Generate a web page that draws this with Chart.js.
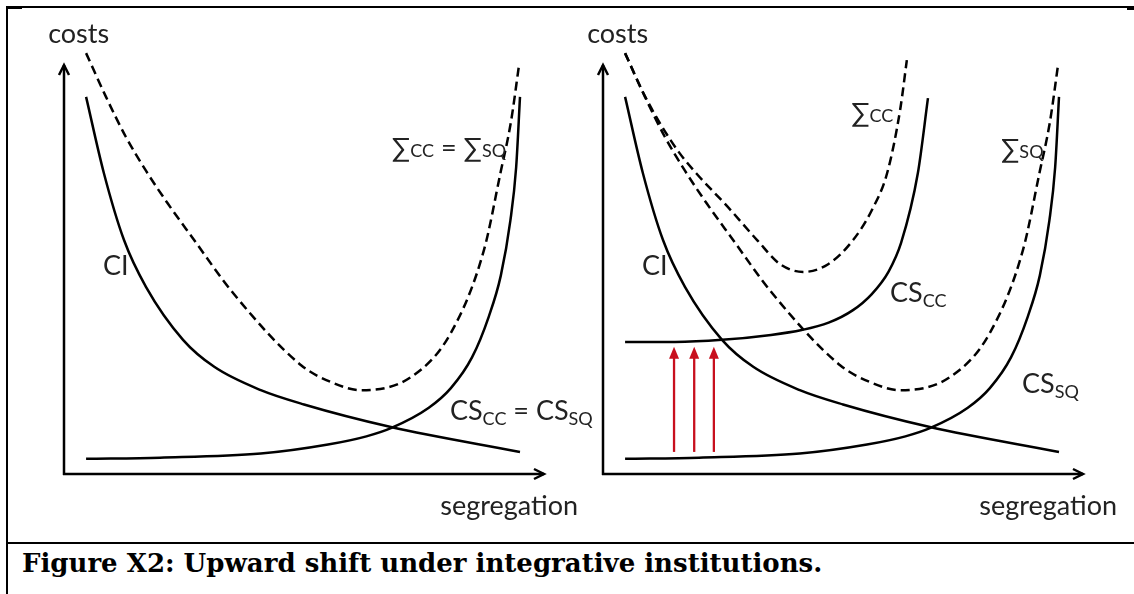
<!DOCTYPE html>
<html>
<head>
<meta charset="utf-8">
<script src="https://cdn.jsdelivr.net/npm/chart.js@4.4.1/dist/chart.umd.min.js"></script>
<style>
  html, body { margin: 0; padding: 0; background: #fff; }
  #page { position: relative; width: 1134px; height: 594px; overflow: hidden; background: #fff; }
  canvas { position: absolute; top: 0; }
  .rule { position: absolute; background: #000; z-index: 2; }
  #caption {
    position: absolute; left: 22px; top: 545px; z-index: 2;
    font-family: "DejaVu Serif", serif; font-weight: bold; font-size: 26px;
    line-height: 36px; color: #000; white-space: nowrap;
  }
</style>
</head>
<body>
<div id="page">
  <canvas id="leftPanel" width="620" height="540" style="left:0"></canvas>
  <canvas id="rightPanel" width="567" height="540" style="left:567px"></canvas>
  <div class="rule" style="left:7px; top:6px; width:1127px; height:2px"></div>
  <div class="rule" style="left:6px; top:6px; width:16px; height:3px"></div>
  <div class="rule" style="left:1127px; top:7px; width:7px; height:3px"></div>
  <div class="rule" style="left:6px; top:6px; width:2px; height:588px"></div>
  <div class="rule" style="left:7px; top:542px; width:1127px; height:2px"></div>
  <div id="caption">Figure X2: Upward shift under integrative institutions.</div>
</div>
<script>
// Curves (x = segregation, y = costs, axis length = 10)
// CI, CS_SQ and the SQ total are the same curves in both panels
const ciX = [0.46, 0.83, 1.25, 1.71, 2.48, 3.13, 4.10, 5.00, 6.81, 9.50];
const ciY = [9.22, 7.36, 5.72, 4.57, 3.28, 2.62, 2.05, 1.70, 1.15, 0.54];

const csSqX = [0.46, 2.00, 4.10, 5.50, 6.30, 6.81, 7.60, 8.06, 8.50, 8.85, 9.10, 9.30, 9.42, 9.50];
const csSqY = [0.37, 0.40, 0.50, 0.72, 0.92, 1.12, 1.62, 2.10, 2.85, 3.85, 4.85, 6.20, 7.50, 9.22];

const sumSqX = [0.46, 0.875, 1.29, 1.71, 2.17, 2.65, 3.54, 4.94, 5.56, 6.19, 7.23, 8.06, 8.75, 9.10, 9.31, 9.48];
const sumSqY = [10.29, 9.22, 8.24, 7.41, 6.60, 5.82, 4.40, 2.66, 2.25, 2.05, 2.37, 3.45, 5.48, 7.40, 8.60, 10.0];

// right panel only: costs of segregation under integrative institutions
const csCcX = [0.46, 1.50, 2.48, 3.50, 4.14, 4.70, 5.20, 5.60, 5.95, 6.21, 6.56, 6.77];
const csCcY = [3.23, 3.23, 3.28, 3.40, 3.52, 3.70, 4.00, 4.40, 4.95, 5.65, 7.36, 9.19];

const sumCcX = [0.46, 0.83, 1.21, 1.58, 1.96, 2.60, 3.21, 3.69, 4.17, 4.69, 5.21, 5.60, 5.92, 6.19, 6.33];
const sumCcY = [10.29, 9.34, 8.53, 7.87, 7.33, 6.53, 5.72, 5.13, 4.94, 5.13, 5.72, 6.45, 7.36, 8.90, 10.12];

// red upward arrows (x positions, from / to cost level)
const shiftX = [1.48, 1.90, 2.31];
const shiftFrom = 0.54;
const shiftTo = 3.11;

const axisLength = 10;

const FONT = 'Lato, "DejaVu Sans", sans-serif';
const INK = '#000';
const RED = '#c8101e';

function pts(xs, ys) {
  return xs.map((x, i) => ({ x: x, y: ys[i] }));
}

function curve(xs, ys, dashed) {
  return {
    data: pts(xs, ys),
    borderColor: INK,
    borderWidth: 2.5,
    borderDash: dashed ? [9, 5] : [],
    pointRadius: 0,
    fill: false,
    cubicInterpolationMode: 'monotone'
  };
}

// label parts: [text, kind]  kind: 0 normal, 1 subscript, 2 small at baseline
function drawLabel(ctx, parts, px, py, align) {
  const fonts = ['27px ' + FONT, '18px ' + FONT, '18px ' + FONT];
  const drop = [0, 5, 0];
  let total = 0;
  parts.forEach(p => { ctx.font = fonts[p[1]]; total += ctx.measureText(p[0]).width; });
  let x = align === 'right' ? px - total : px;
  ctx.textBaseline = 'alphabetic';
  ctx.textAlign = 'left';
  ctx.fillStyle = '#222';
  parts.forEach(p => {
    ctx.font = fonts[p[1]];
    ctx.fillText(p[0], x, py + drop[p[1]]);
    x += ctx.measureText(p[0]).width;
  });
}

function arrowLine(ctx, x0, y0, x1, y1, color, width, filledHead) {
  const ang = Math.atan2(y1 - y0, x1 - x0);
  const len = filledHead ? 12 : 10;
  const half = 5;
  ctx.save();
  ctx.strokeStyle = color;
  ctx.fillStyle = color;
  ctx.lineWidth = width;
  ctx.lineCap = 'butt';
  ctx.beginPath();
  ctx.moveTo(x0, y0);
  ctx.lineTo(filledHead ? x1 - Math.cos(ang) * len * 0.8 : x1, filledHead ? y1 - Math.sin(ang) * len * 0.8 : y1);
  ctx.stroke();
  const bx = x1 - Math.cos(ang) * len, by = y1 - Math.sin(ang) * len;
  const nx = -Math.sin(ang) * half, ny = Math.cos(ang) * half;
  ctx.beginPath();
  ctx.moveTo(bx + nx, by + ny);
  ctx.lineTo(x1, y1);
  ctx.lineTo(bx - nx, by - ny);
  if (filledHead) {
    ctx.closePath();
    ctx.fill();
  } else {
    ctx.lineJoin = 'miter';
    ctx.stroke();
  }
  ctx.restore();
}

const decor = {
  id: 'decor',
  afterDatasetsDraw(chart, args, opts) {
    const ctx = chart.ctx;
    const sx = chart.scales.x, sy = chart.scales.y;
    const X = v => sx.getPixelForValue(v), Y = v => sy.getPixelForValue(v);
    // axes with open arrow heads
    arrowLine(ctx, X(0), Y(0) + 1, X(0), Y(axisLength), INK, 2.5, false);
    arrowLine(ctx, X(0) - 1, Y(0), X(axisLength), Y(0), INK, 2.5, false);
    if (opts.shifts) {
      shiftX.forEach(v => arrowLine(ctx, X(v), Y(shiftFrom), X(v), Y(shiftTo), RED, 2.3, true));
    }
    opts.labels.forEach(l => drawLabel(ctx, l.parts, X(l.x), Y(l.y), l.align));
  }
};

function makePanel(id, originPx, labels, datasets, shifts) {
  const canvas = document.getElementById(id);
  const pxPerX = 48, pxPerY = 40.9, originPy = 474, w = canvas.width, h = canvas.height;
  return new Chart(canvas, {
    type: 'line',
    data: { datasets: datasets },
    options: {
      responsive: false,
      animation: false,
      events: [],
      layout: { padding: 0 },
      scales: {
        x: { type: 'linear', display: false, min: -originPx / pxPerX, max: (w - originPx) / pxPerX },
        y: { type: 'linear', display: false, min: -(h - originPy) / pxPerY, max: originPy / pxPerY }
      },
      plugins: {
        legend: { display: false },
        tooltip: { enabled: false },
        decor: { labels: labels, shifts: shifts }
      }
    },
    plugins: [decor]
  });
}

const commonLabels = [
  { parts: [['costs', 0]], x: -0.33, y: 10.54 },
  { parts: [['segregation', 0]], x: 10.71, y: -1.0, align: 'right' },
  { parts: [['CI', 0]], x: 0.81, y: 4.87 }
];

makePanel('leftPanel', 64, commonLabels.concat([
  { parts: [['\u2211', 0], ['CC', 2], [' = ', 0], ['\u2211', 0], ['SQ', 2]], x: 6.83, y: 7.75 },
  { parts: [['CS', 0], ['CC', 1], [' = CS', 0], ['SQ', 1]], x: 8.04, y: 1.32 }
]), [
  curve(ciX, ciY, false),
  curve(csSqX, csSqY, false),
  curve(sumSqX, sumSqY, true)
], false);

makePanel('rightPanel', 36, commonLabels.concat([
  { parts: [['\u2211', 0], ['CC', 2]], x: 5.17, y: 8.61 },
  { parts: [['\u2211', 0], ['SQ', 2]], x: 8.29, y: 7.73 },
  { parts: [['CS', 0], ['CC', 1]], x: 5.98, y: 4.21 },
  { parts: [['CS', 0], ['SQ', 1]], x: 8.73, y: 1.98 }
]), [
  curve(ciX, ciY, false),
  curve(csSqX, csSqY, false),
  curve(sumSqX, sumSqY, true),
  curve(csCcX, csCcY, false),
  curve(sumCcX, sumCcY, true)
], true);
</script>
</body>
</html>
